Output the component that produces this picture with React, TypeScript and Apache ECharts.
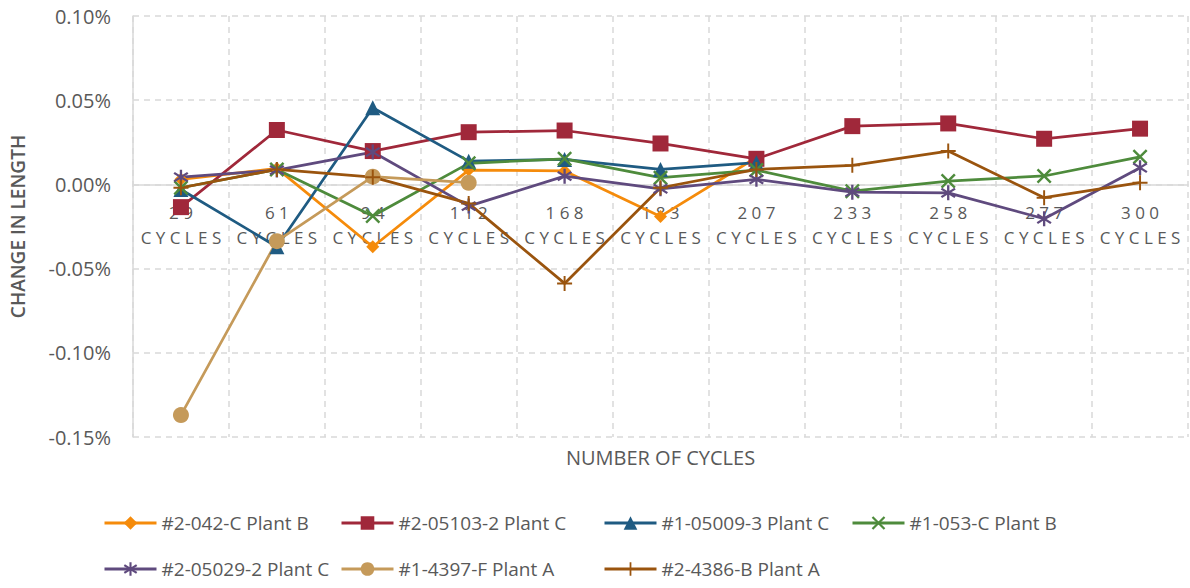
import React, { useEffect, useRef } from "react";
import * as echarts from "echarts";

const categories = ["29", "61", "94", "112", "168", "183", "207", "233", "258", "277", "300"];

const s042C = [0.003, 0.0095, -0.037, 0.0085, 0.008, -0.019, 0.016, null, null, null, null];
const s05103 = [-0.0135, 0.0323, 0.0198, 0.031, 0.032, 0.0243, 0.0152, 0.0346, 0.0362, 0.0271, 0.0331];
const s05009 = [-0.003, -0.037, 0.0455, 0.0138, 0.0148, 0.0089, 0.0129, null, null, null, null];
const s053C = [-0.002, 0.0089, -0.0188, 0.0125, 0.0152, 0.004, 0.0085, -0.004, 0.002, 0.005, 0.0164];
const s05029 = [0.0043, 0.0085, 0.0192, -0.0129, 0.0049, -0.0026, 0.003, -0.0046, -0.005, -0.0204, 0.0099];
const s4397F = [-0.137, -0.0337, 0.0046, 0.001, null, null, null, null, null, null, null];
const s4386B = [-0.002, 0.0089, 0.0043, -0.0113, -0.0588, -0.002, 0.0089, 0.0113, 0.0198, -0.0079, 0.001];

const seriesNames = [
  "#2-042-C Plant B",
  "#2-05103-2 Plant C",
  "#1-05009-3 Plant C",
  "#1-053-C Plant B",
  "#2-05029-2 Plant C",
  "#1-4397-F Plant A",
  "#2-4386-B Plant A",
];

const yTicks = { min: -0.15, max: 0.1, interval: 0.05 };

function barsPath(angles: number[], halfLen: number, halfW: number) {
  let d = "path://";
  for (const a of angles) {
    const r = (a * Math.PI) / 180;
    const c = Math.cos(r), s = Math.sin(r);
    const pts = [
      [-halfLen, -halfW],
      [halfLen, -halfW],
      [halfLen, halfW],
      [-halfLen, halfW],
    ].map(([x, y]) => [x * c - y * s, x * s + y * c]);
    d += `M${pts[0][0].toFixed(3)},${pts[0][1].toFixed(3)}`;
    for (let i = 1; i < 4; i++) d += ` L${pts[i][0].toFixed(3)},${pts[i][1].toFixed(3)}`;
    d += " Z ";
  }
  return d.trim();
}

const plusSym = barsPath([0, 90], 10, 1.3);
const xSym = barsPath([45, 135], 10, 1.3);
const starSym = barsPath([90, 35, 145], 10, 1.4);

export default function App() {
  const ref = useRef<HTMLDivElement>(null);
  useEffect(() => {
    if (!ref.current) return;
    const chart = echarts.init(ref.current, undefined, { renderer: "svg" });
    const font = "'Open Sans', 'Noto Sans', sans-serif";
    const gray = "#595959";
    const datas = [s042C, s05103, s05009, s053C, s05029, s4397F, s4386B];
    const colors = ["#F58B0B", "#A0283A", "#1F5B82", "#4E8B3C", "#5F4A7E", "#C59A5A", "#9A540E"];
    const symbols = ["diamond", "rect", "triangle", xSym, starSym, "circle", plusSym];
    const sizes = [13, 16, 15, 15, 15, 16, 15];
    const series = datas.map((d, i) => ({
      name: seriesNames[i],
      type: "line",
      data: d,
      symbol: symbols[i],
      symbolSize: sizes[i],
      showSymbol: true,
      connectNulls: false,
      lineStyle: { color: colors[i], width: 2.75 },
      itemStyle: { color: colors[i] },
      emphasis: { disabled: true },
    }));
    const legendPos = [
      [103, 512],
      [340, 512],
      [603, 512],
      [851, 512],
      [103, 558],
      [340, 558],
      [603, 558],
    ];
    const legends = seriesNames.map((n, i) => ({
      orient: "horizontal",
      left: legendPos[i][0],
      top: legendPos[i][1],
      padding: 0,
      itemWidth: 52,
      itemHeight: 17,
      data: [n],
      lineStyle: { width: 3 },
      textStyle: { color: gray, fontSize: 19, fontFamily: font, lineHeight: 22 },
      selectedMode: false,
    }));
    const gridTop = 16;
    const gridBottom = 151;
    const plotH = 588 - gridTop - gridBottom;
    const zeroOffset = -(plotH * (0 - yTicks.min)) / (yTicks.max - yTicks.min);
    chart.setOption({
      animation: false,
      color: colors,
      grid: { left: 132, right: 2, top: gridTop, bottom: gridBottom, containLabel: false },
      legend: legends,
      xAxis: {
        type: "category",
        data: categories,
        boundaryGap: true,
        position: "bottom",
        offset: zeroOffset,
        name: "NUMBER OF CYCLES",
        nameLocation: "middle",
        nameGap: 263,
        nameTextStyle: { color: gray, fontSize: 20, fontFamily: font },
        axisLine: { show: true, onZero: false, lineStyle: { color: "#d9d9d9", width: 1.5 } },
        axisTick: { show: false },
        axisLabel: {
          color: gray,
          fontSize: 17,
          fontFamily: font,
          lineHeight: 25,
          margin: 16,
          interval: 0,
          formatter: (v: string) => v.split("").join(" ") + "\n" + "C Y C L E S",
        },
        splitLine: { show: true, interval: 0, lineStyle: { color: "#d9d9d9", type: [6, 5], width: 1.5 } },
      },
      yAxis: {
        type: "value",
        min: yTicks.min,
        max: yTicks.max,
        interval: yTicks.interval,
        name: "CHANGE IN LENGTH",
        nameLocation: "middle",
        nameGap: 106,
        nameTextStyle: { color: gray, fontSize: 19, fontFamily: font, fontWeight: 600 },
        axisLine: { show: true, onZero: false, lineStyle: { color: "#d9d9d9", width: 1.5 } },
        axisTick: { show: false },
        axisLabel: {
          color: gray,
          fontSize: 20,
          fontFamily: font,
          margin: 22,
          formatter: (v: number) => v.toFixed(2) + "%",
        },
        splitLine: { show: true, lineStyle: { color: "#d9d9d9", type: [6, 5], width: 1.5 } },
      },
      series,
    });
    return () => chart.dispose();
  }, []);
  return (
    <div
      ref={ref}
      style={{ position: "absolute", left: 0, top: 0, width: 1190, height: 588, background: "#fff" }}
    />
  );
}
